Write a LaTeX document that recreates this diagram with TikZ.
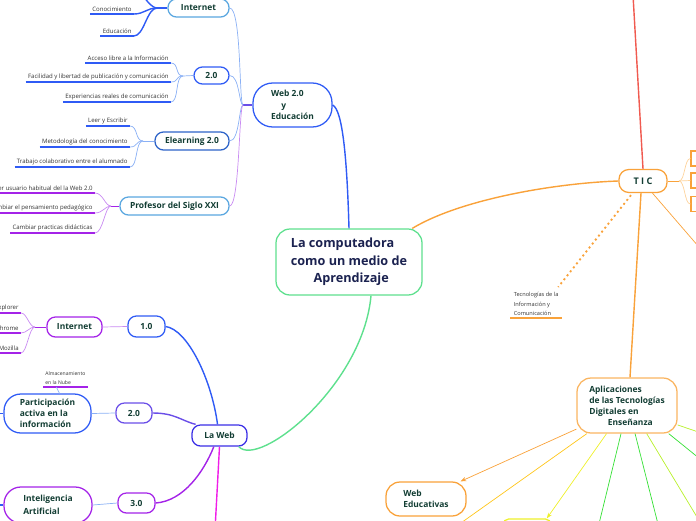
\documentclass[tikz,border=0pt]{standalone}
\usepackage{fontspec}
\setmainfont{Open Sans}
\usetikzlibrary{arrows.meta,calc}

\newcommand{\pxl}{0.025cm}

\definecolor{centergreen}{HTML}{5EE08E}
\definecolor{centertext}{HTML}{1B2250}
\definecolor{nodetext}{HTML}{123D33}
\definecolor{leaftext}{HTML}{333333}
\definecolor{webblue}{HTML}{2F5BF5}
\definecolor{lightblue}{HTML}{8AB0F5}
\definecolor{skyblue}{HTML}{5AA7E0}
\definecolor{elearnblue}{HTML}{2D63C8}
\definecolor{purpleline}{HTML}{A423E8}
\definecolor{lavender}{HTML}{C98BF2}
\definecolor{webviolet}{HTML}{3A2EE6}
\definecolor{violetline}{HTML}{6A4EE8}
\definecolor{ticorange}{HTML}{F9A23A}
\definecolor{paleorange}{HTML}{FDD29A}
\definecolor{goldline}{HTML}{FFC61A}
\definecolor{yellowline}{HTML}{EEF02A}
\definecolor{greenline}{HTML}{35E035}
\definecolor{yellowgreen}{HTML}{B8F02A}
\definecolor{redline}{HTML}{F05A50}
\definecolor{magentaline}{HTML}{F01EE8}

\tikzset{
  topic/.style={draw, rounded corners=6pt, line width=0.9pt, fill=white,
    text=nodetext, font=\fontsize{6}{7.8}\selectfont\bfseries,
    inner sep=0pt, align=left},
  leaf/.style={text=leaftext, font=\fontsize{4.3}{5.5}\selectfont,
    inner xsep=1.5pt, inner ysep=1.4pt},
  underline/.style={line width=1pt},
  link/.style={line width=0.5pt},
  branch/.style={line width=1pt},
  tabbox/.style={draw=ticorange, line width=0.9pt, fill=white,
    minimum width=20*\pxl, minimum height=15*\pxl, inner sep=0pt},
}

\begin{document}
\begin{tikzpicture}[x=\pxl, y=-\pxl]
\useasboundingbox (0,0) rectangle (696,520);
\clip (0,0) rectangle (696,520);

\node[topic, draw=centergreen, rounded corners=10pt,
      minimum width=146*\pxl, minimum height=66*\pxl, text=centertext,
      font=\fontsize{9}{12.3}\selectfont\bfseries]
  (center) at (349,262) {La computadora\\como un medio de\\\hspace{1.8em}Aprendizaje};

\node[topic, draw=webblue, rounded corners=14pt, minimum width=79*\pxl,
      minimum height=44*\pxl, font=\fontsize{6}{8.2}\selectfont\bfseries]
  (web) at (292.5,105) {Web 2.0\\\hspace{1.2em}y\\Educación};
\node[topic, draw=skyblue, minimum width=61*\pxl, minimum height=18*\pxl] (internetA) at (198.5,8) {Internet};
\node[topic, draw=webblue, minimum width=35*\pxl, minimum height=17*\pxl] (dosA) at (211.5,75.5) {2.0};
\node[topic, draw=elearnblue, minimum width=74*\pxl, minimum height=18*\pxl] (elearn) at (192,141) {Elearning 2.0};
\node[topic, draw=skyblue, minimum width=109*\pxl, minimum height=18*\pxl] (profesor) at (174.5,206) {Profesor del Siglo XXI};

\node[topic, draw=webviolet, minimum width=55*\pxl, minimum height=21*\pxl] (laweb) at (219.5,435.5) {La Web};
\node[topic, draw=webblue, minimum width=37*\pxl, minimum height=21*\pxl] (uno) at (146.5,326.5) {1.0};
\node[topic, draw=purpleline, minimum width=55*\pxl, minimum height=20*\pxl] (internetB) at (74.5,327) {Internet};
\node[topic, draw=webblue, rounded corners=12pt, minimum width=87*\pxl, minimum height=39*\pxl]
  (part) at (47.5,413.5) {Participación\\activa en la\\información};
\node[topic, draw=violetline, minimum width=36*\pxl, minimum height=20*\pxl] (dosB) at (134,413) {2.0};
\node[topic, draw=purpleline, rounded corners=12pt, minimum width=88*\pxl, minimum height=36*\pxl,
      font=\fontsize{6}{9.2}\selectfont\bfseries] (ia) at (48,505) {Inteligencia\\Artificial};
\node[topic, draw=purpleline, minimum width=37*\pxl, minimum height=20*\pxl] (tres) at (136.5,503) {3.0};

\node[topic, draw=ticorange, rounded corners=7pt, minimum width=48*\pxl, minimum height=23*\pxl,
      font=\fontsize{6.5}{8}\selectfont\bfseries] (tic) at (643,181) {T I C};
\node[tabbox] (tbox1) at (701,158.5) {};
\node[tabbox] (tbox2) at (701,180.5) {};
\node[tabbox] (tbox3) at (701,204) {};
\node[topic, draw=ticorange!80, rounded corners=10pt, minimum width=100*\pxl, minimum height=55*\pxl]
  (apl) at (627,405.5) {Aplicaciones\\de las Tecnologías\\Digitales en\\\hspace{2.2em}Enseñanza};
\node[topic, draw=ticorange, rounded corners=10pt, minimum width=80*\pxl, minimum height=34*\pxl]
  (webedu) at (426,499) {Web\\Educativas};
\node[topic, draw=yellowline, rounded corners=4pt, minimum width=48*\pxl, minimum height=32*\pxl]
  (amarillo) at (527,535) {};

\node[leaf, anchor=south east] (conoc) at (134,14) {Conocimiento};
\node[leaf, anchor=south east] (educ) at (134,36) {Educación};
\node[leaf, anchor=south east] (acceso) at (171,63) {Acceso libre a la Información};
\node[leaf, anchor=south east] (facil) at (171,82) {Facilidad y libertad de publicación y comunicación};
\node[leaf, anchor=south east] (exper) at (171,102) {Experiencias reales de comunicación};
\node[leaf, anchor=south east] (leer) at (130,126) {Leer y Escribir};
\node[leaf, anchor=south east] (metod) at (130,147) {Metodología del conocimiento};
\node[leaf, anchor=south east] (trabajo) at (130,167) {Trabajo colaborativo entre el alumnado};
\node[leaf, anchor=south east] (usuario) at (95,193) {Ser usuario habitual del la Web 2.0};
\node[leaf, anchor=south east] (pensam) at (95,213) {Cambiar el pensamiento pedagógico};
\node[leaf, anchor=south east] (practicas) at (95,233) {Cambiar practicas didácticas};
\node[leaf, anchor=south east] (explorer) at (21,313) {Explorer};
\node[leaf, anchor=south east] (chrome) at (21,333) {Chrome};
\node[leaf, anchor=south east] (mozilla) at (21,353) {Mozilla};
\node[leaf, anchor=south west, align=left, font=\fontsize{3.6}{6.3}\selectfont] (nube) at (43,387) {Almacenamiento\\en la Nube};
\node[leaf, anchor=south west, align=left, inner xsep=2.5pt, font=\fontsize{4}{6.8}\selectfont] (tecno) at (510,318) {Tecnologías de la\\Información y\\Comunicación};

\coordinate (jweb) at (243,105);
\coordinate (jint) at (157,8);
\coordinate (jdos) at (183,76);
\coordinate (jelearn) at (143,141);
\coordinate (jprof) at (111,206);
\coordinate (jintB) at (35,327);
\coordinate (jtic) at (679,181);
\coordinate (cutA) at (142,-6);
\coordinate (redend) at (633,-5);
\coordinate (ticoff) at (730,283);
\coordinate (magend) at (215,530);
\coordinate (partoff) at (-10,413.5);
\coordinate (iaoff) at (-10,505);
\coordinate (goldend) at (451,530);
\coordinate (greenA) at (597,532);
\coordinate (greenB) at (660,532);
\coordinate (ygA) at (706,532);
\coordinate (greenC) at (710,467);
\coordinate (ygB) at (710,436);

\draw[branch, webblue] (web.east) .. controls +(10,5) and +(-2,-70) .. (center.north);
\draw[branch, centergreen] (laweb.-30) .. controls +(20,22) and +(-8,90) .. ($(center.south)+(22,0)$);
\draw[branch, ticorange] (center.28) .. controls +(50,-30) and +(-60,2) .. (tic.west);

\draw[branch, violetline] (web.west) -- (jweb);
\draw[link, lightblue] (jweb) .. controls +(-4,0) and +(12,0) .. (internetA.east);
\draw[link, lightblue] (jweb) .. controls +(-4,0) and +(10,0) .. (dosA.east);
\draw[link, lightblue] (jweb) .. controls +(-4,0) and +(10,0) .. (elearn.east);
\draw[link, lavender] (jweb) .. controls +(-4,0) and +(10,0) .. (profesor.east);

\draw[branch, webblue] (internetA.west) -- (jint);
\draw[branch, webblue] (jint) .. controls +(-5,0) and +(3,5) .. (cutA);
\foreach \leaf in {conoc,educ}{
  \draw[underline, webblue] (\leaf.south west) -- (\leaf.south east);
  \draw[branch, webblue] (\leaf.south east) .. controls +(10,0) and +(-10,0) .. (jint);
}
\draw[link, lightblue] (dosA.west) -- (jdos);
\foreach \leaf in {acceso,facil,exper}{
  \draw[underline, webblue] (\leaf.south west) -- (\leaf.south east);
  \draw[link, lightblue] (\leaf.south east) .. controls +(8,0) and +(-8,0) .. (jdos);
}
\draw[link, lightblue] (elearn.west) -- (jelearn);
\foreach \leaf in {leer,metod,trabajo}{
  \draw[underline, webblue] (\leaf.south west) -- (\leaf.south east);
  \draw[link, lightblue] (\leaf.south east) .. controls +(8,0) and +(-8,0) .. (jelearn);
}
\draw[link, purpleline] (profesor.west) -- (jprof);
\foreach \leaf in {usuario,pensam,practicas}{
  \draw[underline, purpleline] (\leaf.south west) -- (\leaf.south east);
  \draw[link, lavender] (\leaf.south east) .. controls +(8,0) and +(-6,0) .. (jprof);
}

\draw[branch, webblue] (uno.east) .. controls +(22,3) and +(-6,-45) .. (laweb.100);
\draw[link, lavender] (internetB.east) -- (uno.west);
\draw[link, purpleline] (internetB.west) -- (jintB);
\foreach \leaf in {explorer,chrome,mozilla}{
  \draw[underline, purpleline] (\leaf.south west) -- (\leaf.south east);
  \draw[link, lavender] (\leaf.south east) .. controls +(6,0) and +(-6,0) .. (jintB);
}
\draw[branch, violetline] (dosB.east) .. controls +(22,0) and +(-15,-4) .. (laweb.155);
\draw[link, lightblue] (part.east) -- (dosB.west);
\draw[underline, purpleline] (nube.south west) -- (nube.south east);
\draw[link, lightblue] ($(nube.south)+(-9,0)$) -- ($(part.north)+(12,0)$);
\draw[branch, purpleline] (tres.east) .. controls +(28,-2) and +(-10,25) .. (laweb.-117);
\draw[link, lightblue] (ia.east) -- (tres.west);
\draw[branch, magentaline] (laweb.south) -- (magend);
\draw[branch, webblue] (part.west) -- (partoff);
\draw[branch, webblue] (ia.west) -- (iaoff);

\draw[branch, redline] (tic.north) -- (redend);
\draw[branch, ticorange] ($(tic.south)+(-2,0)$) -- ($(apl.north)+(3,0)$);
\draw[link, ticorange] (tic.-52) -- (ticoff);
\draw[ticorange, line width=1.3pt, dash pattern=on 1.4pt off 2.2pt] ($(tic.south)+(-12,2)$) -- ($(tecno.north east)+(-4,-3)$);
\draw[underline, ticorange] (tecno.south west) -- (tecno.south east);
\draw[link, ticorange] (tic.east) -- (jtic);
\foreach \b in {tbox1,tbox2,tbox3}
  \draw[link, paleorange] (jtic) .. controls +(6,0) and +(-6,0) .. (\b.west);

\draw[link, ticorange, -{Stealth[length=4pt,width=3pt]}] (apl.205) -- (webedu.27);
\draw[link, goldline] (apl.-145) -- (goldend);
\draw[link, yellowline, -{Stealth[length=4pt,width=3pt]}] (apl.-126) -- (amarillo.40);
\draw[link, greenline] (apl.-102) -- (greenA);
\draw[link, greenline] (apl.-74) -- (greenB);
\draw[link, yellowgreen] (apl.-55) -- (ygA);
\draw[link, greenline] (apl.-34) -- (greenC);
\draw[link, yellowgreen] (apl.-21) -- (ygB);
\end{tikzpicture}
\end{document}
